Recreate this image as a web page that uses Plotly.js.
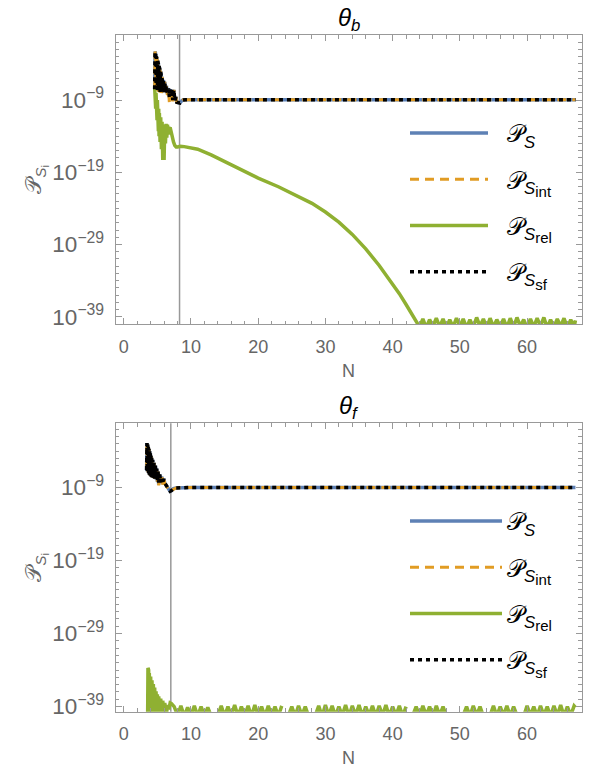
<!DOCTYPE html>
<html><head><meta charset="utf-8">
<script src="https://cdn.plot.ly/plotly-3.0.1.min.js"></script>
<style>html,body{margin:0;padding:0;background:#fff}#chart{width:597px;height:771px}</style>
</head><body><div id="chart"></div>
<script>
// ---------- DATA (y values given as log10) ----------
// Top panel (theta_b)
const topSpikeN = [4.60,4.65,4.70,4.75,4.80,4.85,4.90,4.95,5.00,5.05,5.10,5.15,5.20,5.25,5.30,5.35,5.40,5.45,5.50,5.55,5.60,
  5.70,5.80,5.90,6.00,6.10,6.20,6.35,6.50,6.65,6.80,6.90,7.00,7.15,7.30,7.45,7.60,7.75,7.90,
  8.05,8.20,8.35,8.50,8.80,9.20,10,15,20,30,40,50,60,67.2];
const topS_log10 = [-7.5,-2.3,-7.2,-2.6,-7.4,-3.0,-7.3,-3.3,-7.6,-3.6,-7.5,-4.0,-7.8,-4.3,-7.6,-4.7,-7.9,-5.0,-7.7,-5.4,-8.0,
  -5.8,-7.8,-6.2,-7.9,-6.5,-7.8,-7.0,-8.2,-7.4,-8.6,-7.5,-8.4,-7.6,-9.0,-7.6,-9.1,-8.6,-9.3,
  -9.35,-9.45,-9.4,-9.2,-9.0,-8.95,-8.95,-8.95,-8.95,-8.95,-8.95,-8.95,-8.95,-8.95];
const topSint_log10 = [-7.5,-2.3,-7.3,-2.6,-7.5,-3.0,-7.4,-3.3,-7.7,-3.6,-7.6,-4.0,-7.9,-4.3,-7.7,-4.7,-8.0,-5.0,-7.8,-5.4,-8.1,
  -5.8,-7.9,-6.2,-8.0,-6.5,-7.9,-7.0,-8.3,-7.4,-9.6,-7.5,-8.5,-7.6,-9.2,-7.6,-9.1,-8.6,-9.3,
  -9.35,-9.45,-9.4,-9.2,-9.0,-8.95,-8.95,-8.95,-8.95,-8.95,-8.95,-8.95,-8.95,-8.95];
const topSsf_log10 = topS_log10;  // coincides with P_S in the picture

const topRelN = [4.60,4.65,4.70,4.75,4.80,4.85,4.90,4.95,5.00,5.05,5.10,5.15,5.20,5.25,5.30,5.40,5.50,5.60,5.70,5.80,5.90,
  6.00,6.10,6.20,6.30,6.40,6.50,6.60,6.70,6.80,6.90,7.00,7.20,7.40,7.60,7.80,8.00,8.40,9.0,10.0,11.0,
  13,15,17,20,23,26,28,30,32,34,36,38,40,41,42,43,
  43.5,44.0,44.5,45.0,45.5,46.0,46.5,47.0,47.5,48.0,48.5,49.0,49.5,50.0,50.5,51.0,51.5,52.0,52.5,53.0,
  53.5,54.0,54.5,55.0,55.5,56.0,56.5,57.0,57.5,58.0,58.5,59.0,59.5,60.0,60.5,61.0,61.5,62.0,62.5,63.0,
  63.5,64.0,64.5,65.0,65.5,66.0,66.5,67.0,67.2];
const topRel_log10 = [-7.3,-9.5,-7.6,-10.2,-8.0,-11.0,-8.5,-11.8,-9.0,-12.5,-9.6,-13.3,-10.2,-14.0,-10.8,-14.8,-11.4,-15.8,-12.0,-17.3,-12.4,
  -17.3,-12.6,-15.0,-12.3,-14.2,-12.4,-13.8,-12.7,-13.3,-12.8,-13.2,-14.1,-14.8,-15.3,-15.5,-15.5,-15.4,-15.45,-15.6,-15.8,
  -16.6,-17.5,-18.4,-19.8,-21.0,-22.3,-23.3,-24.5,-25.9,-27.6,-29.6,-31.9,-34.4,-35.8,-37.3,-38.8,
  -39.5,-40.4,-39.3,-40.5,-39.4,-40.3,-39.2,-40.4,-39.3,-40.5,-39.4,-40.4,-39.2,-40.3,-39.3,-40.5,-39.4,-40.4,-39.1,-40.3,
  -39.3,-40.5,-39.2,-40.4,-39.4,-40.3,-39.3,-40.5,-39.2,-40.4,-39.1,-40.3,-39.4,-40.5,-39.3,-40.4,-39.2,-40.3,-39.1,-40.5,
  -39.4,-40.4,-39.3,-40.3,-39.2,-40.5,-39.4,-40.4,-39.5];
const topMarkerN = 8.3;

// Bottom panel (theta_f)
const botSpikeN = [3.40,3.45,3.50,3.55,3.60,3.65,3.70,3.75,3.80,3.85,3.90,3.95,4.00,4.05,4.10,4.15,4.20,
  4.30,4.40,4.50,4.60,4.70,4.80,4.90,5.00,5.10,5.20,5.35,5.50,5.65,5.80,5.95,6.10,
  6.30,6.50,6.70,6.90,7.10,7.40,7.80,8.50,10,20,30,40,50,60,67.2];
const botS_log10 = [-6.6,-2.9,-6.8,-3.1,-6.9,-3.4,-7.0,-3.7,-7.2,-4.0,-7.3,-4.3,-7.4,-4.6,-7.5,-4.9,-7.6,
  -5.2,-7.7,-5.6,-7.8,-6.0,-7.9,-6.4,-8.2,-6.8,-8.6,-7.2,-8.3,-7.5,-8.5,-7.8,-8.4,
  -8.7,-9.1,-9.4,-9.5,-9.4,-9.15,-9.05,-9.0,-9.0,-9.0,-9.0,-9.0,-9.0,-9.0,-9.0];
const botSint_log10 = [-6.6,-2.9,-6.8,-3.1,-6.9,-3.4,-7.0,-3.7,-7.2,-4.0,-7.3,-4.3,-7.4,-4.6,-7.5,-4.9,-7.6,
  -5.2,-7.7,-5.6,-7.8,-6.0,-7.9,-6.4,-8.2,-6.8,-8.7,-7.2,-8.3,-7.3,-8.6,-7.8,-8.4,
  -8.7,-9.1,-9.4,-9.5,-9.4,-9.15,-9.05,-9.0,-9.0,-9.0,-9.0,-9.0,-9.0,-9.0,-9.0];
const botSsf_log10 = botS_log10;  // coincides with P_S in the picture

const botRelN = [3.55,3.60,3.65,3.70,3.75,3.80,3.90,4.00,4.10,4.20,4.30,4.40,4.50,4.60,4.70,4.80,4.90,5.00,5.10,5.20,
  5.35,5.50,5.65,5.80,5.95,6.10,6.30,6.50,6.70,6.90,7.10,7.30,
  7.5,8.0,8.5,9.0,9.5,10.0,10.5,11.0,11.5,12.0,
  12.5,13.0,13.5,14.0,14.5,15.0,15.5,16.0,16.5,17.0,
  17.5,18.0,18.5,19.0,19.5,20.0,20.5,21.0,21.5,22.0,
  22.5,23.0,23.5,24.0,24.5,25.0,25.5,26.0,26.5,27.0,
  27.5,28.0,28.5,29.0,29.5,30.0,30.5,31.0,31.5,32.0,
  32.5,33.0,33.5,34.0,34.5,35.0,35.5,36.0,36.5,37.0,
  37.5,38.0,38.5,39.0,39.5,40.0,40.5,41.0,41.5,42.0,
  42.5,43.0,43.5,44.0,44.5,45.0,45.5,46.0,46.5,47.0,
  47.5,48.0,48.5,49.0,49.5,50.0,50.5,51.0,51.5,52.0,
  52.5,53.0,53.5,54.0,54.5,55.0,55.5,56.0,56.5,57.0,
  57.5,58.0,58.5,59.0,59.5,60.0,60.5,61.0,61.5,62.0,
  62.5,63.0,63.5,64.0,64.5,65.0,65.5,66.0,66.5,67.0,67.2];
const botRel_log10 = [-40.5,-33.7,-36.5,-34.0,-38.5,-34.4,-40.5,-34.9,-39.0,-35.4,-40.5,-35.9,-39.4,-36.4,-40.5,-36.9,-39.6,-37.3,-40.5,-37.6,
  -39.6,-37.9,-40.5,-38.2,-39.6,-38.5,-40.5,-38.8,-39.4,-38.5,-38.6,-38.9,
  -39.0,-40.2,-38.9,-40.3,-39.1,-40.2,-38.9,-40.3,-39.0,-40.2,
  -39.1,-40.3,null,-40.2,-38.9,-40.3,-39.0,-40.2,-38.8,-40.3,
  -39.0,-40.2,-38.9,-40.3,-38.8,-40.2,-39.0,-40.3,-38.9,-40.2,
  -39.0,-40.3,-38.9,null,-40.2,-39.0,-40.3,-38.9,-40.2,-39.0,
  -40.3,null,-40.2,-38.9,-40.3,-38.8,-40.2,-38.9,-40.3,-39.0,
  -40.2,-38.8,-40.3,-38.9,-40.2,-38.8,-40.3,-39.0,-40.2,-38.9,
  -40.3,-38.9,-40.2,-38.8,-40.3,-39.0,-40.2,-38.9,-40.3,-39.0,
  null,-40.2,-39.0,-40.3,-38.9,-40.2,-39.0,-40.3,-38.9,-40.2,
  -39.0,-40.3,null,null,null,null,-40.2,-39.0,-40.3,-38.9,
  -40.2,-39.0,-40.3,null,-40.2,-38.9,-40.3,-39.0,-40.2,-38.9,
  -40.3,-39.0,-40.2,null,-40.3,-38.9,-40.2,-39.0,-40.3,-38.9,
  -40.2,-39.0,-40.3,-38.9,-40.2,-38.8,-40.3,-39.0,-40.2,-38.9,-39.1];
const botMarkerN = 7.0;

// x ticks / y ticks
const xTickStep = 10, xMinorStep = 2;
const yTickStartExp = -9, yTickStepDecades = 10, yMinorDecades = 1;

// ---------- helpers ----------
const pow10 = a => a.map(v => v === null ? null : Math.pow(10, v));

const C_BLUE = '#5E81B5', C_ORANGE = '#E19C24', C_GREEN = '#8FB032', C_BLACK = '#000000';
const sub2 = t => '<sub><span style="font-size:15px">' + t + '</span></sub>';
const names = ['𝒫<sub><i>S</i></sub>', '𝒫<sub><i>S</i>' + sub2('int') + '</sub>',
               '𝒫<sub><i>S</i>' + sub2('rel') + '</sub>', '𝒫<sub><i>S</i>' + sub2('sf') + '</sub>'];

function panel(xa, ya, leg, spikeN, s, sint, ssf, relN, rel) {
  return [
    {x: spikeN, y: pow10(s), xaxis: xa, yaxis: ya, legend: leg, legendgroup: leg+'a', name: names[0], mode: 'lines',
     line: {color: C_BLUE, width: 3.5}},
    {x: spikeN, y: pow10(sint), xaxis: xa, yaxis: ya, legend: leg, legendgroup: leg+'b', name: names[1], mode: 'lines',
     line: {color: C_ORANGE, width: 3, dash: '9px,6px'}},
    {x: relN, y: pow10(rel), xaxis: xa, yaxis: ya, legend: leg, legendgroup: leg+'c', name: names[2], mode: 'lines',
     line: {color: C_GREEN, width: 3.5}, connectgaps: false},
    {x: spikeN, y: pow10(ssf), xaxis: xa, yaxis: ya, legend: leg, legendgroup: leg+'d', name: names[3], mode: 'lines',
     line: {color: C_BLACK, width: 3.5, dash: '4px,4px'}}
  ];
}

const data = [
  ...panel('x', 'y', 'legend', topSpikeN, topS_log10, topSint_log10, topSsf_log10, topRelN, topRel_log10),
  ...panel('x2', 'y2', 'legend2', botSpikeN, botS_log10, botSint_log10, botSsf_log10, botRelN, botRel_log10)
];

const W = 597, H = 771;
const xDom = [115.7 / W, 581.5 / W];
const FONT = 'Liberation Sans, Arial, sans-serif';
const GRAY = '#999999', TXT = '#666666';

function xAxis(anchor) {
  return {
    anchor: anchor, domain: xDom, range: [-1.2, 68.1], tick0: 0, dtick: xTickStep,
    ticks: 'inside', ticklen: 6, tickwidth: 1, tickcolor: GRAY,
    showline: true, linecolor: GRAY, linewidth: 1, mirror: 'ticks',
    showgrid: false, zeroline: false,
    minor: {dtick: xMinorStep, ticks: 'inside', ticklen: 3.5, tickcolor: GRAY, showgrid: false},
    tickfont: {family: FONT, size: 18, color: TXT}, ticklabelstandoff: 6,
    title: {text: 'N', font: {family: FONT, size: 18, color: TXT}, standoff: 8}
  };
}
function yAxis(anchor, dom, rng) {
  return {
    anchor: anchor, domain: dom, type: 'log', range: rng, tick0: yTickStartExp, dtick: yTickStepDecades,
    exponentformat: 'power',
    ticks: 'inside', ticklen: 6, tickwidth: 1, tickcolor: GRAY,
    showline: true, linecolor: GRAY, linewidth: 1, mirror: 'ticks',
    showgrid: false, zeroline: false,
    minor: {dtick: yMinorDecades, tick0: yTickStartExp, ticks: 'inside', ticklen: 3.5, tickcolor: GRAY, showgrid: false},
    tickfont: {family: FONT, size: 18, color: TXT}, ticklabelstandoff: 7,
    title: {text: '𝒫<sub><i>S</i><sub>i</sub></sub>', font: {family: FONT, size: 22, color: TXT}, standoff: 4}
  };
}

function legendCfg(yTopPx) {
  return {
    x: 405 / W, xanchor: 'left', y: 1 - yTopPx / H, yanchor: 'top',
    bgcolor: 'rgba(0,0,0,0)', borderwidth: 0,
    font: {family: FONT, size: 24, color: '#000'},
    itemwidth: 92, traceorder: 'grouped', tracegroupgap: 12, itemclick: false, itemdoubleclick: false
  };
}

const layout = {
  width: W, height: H, margin: {l: 0, r: 0, t: 0, b: 0},
  paper_bgcolor: '#fff', plot_bgcolor: '#fff', showlegend: true,
  xaxis: xAxis('y'),
  yaxis: yAxis('x', [1 - 324 / H, 1 - 35 / H], [-40, 0]),
  xaxis2: xAxis('y2'),
  yaxis2: yAxis('x2', [1 - 711.7 / H, 1 - 423.3 / H], [-39.7, -0.2]),
  legend: legendCfg(111),
  legend2: legendCfg(499),
  shapes: [
    {type: 'line', xref: 'x', yref: 'y domain', x0: topMarkerN, x1: topMarkerN, y0: 0, y1: 1, layer: 'below',
     line: {color: GRAY, width: 1.5}},
    {type: 'line', xref: 'x2', yref: 'y2 domain', x0: botMarkerN, x1: botMarkerN, y0: 0, y1: 1, layer: 'below',
     line: {color: GRAY, width: 1.5}}
  ],
  annotations: [
    {text: '<i>θ</i><sub><i>b</i></sub>', xref: 'paper', yref: 'paper', x: 348.6 / W, y: 1 - 19 / H,
     xanchor: 'center', yanchor: 'middle', showarrow: false, font: {family: FONT, size: 24, color: '#000'}},
    {text: '<i>θ</i><sub><i>f</i></sub>', xref: 'paper', yref: 'paper', x: 348.6 / W, y: 1 - 407 / H,
     xanchor: 'center', yanchor: 'middle', showarrow: false, font: {family: FONT, size: 24, color: '#000'}}
  ]
};

Plotly.newPlot('chart', data, layout, {staticPlot: true, displayModeBar: false}).then(() => {
  document.querySelectorAll('.legend .legendlines path').forEach(p => p.setAttribute('d', 'M5,0h78'));
});
</script>
</body></html>
